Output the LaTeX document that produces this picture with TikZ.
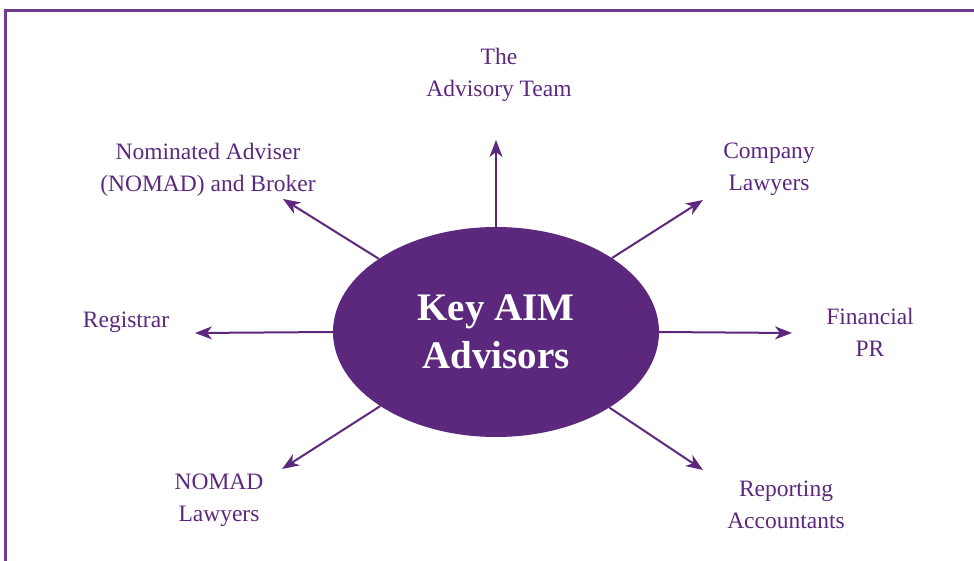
\documentclass[tikz,border=0pt]{standalone}
\usepackage{fontspec}
\setmainfont{Liberation Serif}
\usetikzlibrary{arrows.meta,shapes.geometric}
\definecolor{aimpurple}{RGB}{92,40,126}
\tikzset{
  spoke/.style={line width=2pt, color=aimpurple, -{Stealth[length=17pt,width=13pt,inset=5pt]}},
  advisor/.style={text=aimpurple, align=center, font=\fontsize{23.5}{32}\selectfont},
}

\begin{document}
\begin{tikzpicture}[x=1pt,y=-1pt]
		%%%%% FRAME %%%%%
		\useasboundingbox (0, 0) rectangle (974, 561);
		\draw[line width=3pt, color=aimpurple!90] (5, 575) -- (5, 11) -- (990, 11);
		
		%%%%% CENTRE %%%%%
		\node[ellipse, fill=aimpurple, minimum width=326pt, minimum height=210pt, inner sep=0pt,
		      text=white, align=center, font=\fontsize{39}{48}\selectfont\bfseries] (key) at (496, 332) {Key AIM\\Advisors};
		
		%%%%% TIPS %%%%%
		\coordinate (tipN)  at (496, 140);
		\coordinate (tipNE) at (703, 200);
		\coordinate (tipE)  at (792, 333);
		\coordinate (tipSE) at (703, 470);
		\coordinate (tipSW) at (282, 469);
		\coordinate (tipW)  at (195, 333);
		\coordinate (tipNW) at (283, 199);
		
		\draw[spoke] (key) -- (tipN);
		\draw[spoke] (key) -- (tipNE);
		\draw[spoke] (key.east) -- (tipE);
		\draw[spoke] (key) -- (tipSE);
		\draw[spoke] (key) -- (tipSW);
		\draw[spoke] (key.west) -- (tipW);
		\draw[spoke] (key) -- (tipNW);
		
		%%%%% LABELS %%%%%
		\node[advisor] (team)      at (499, 75)  {The\\Advisory Team};
		\node[advisor] (nomad)     at (208, 170) {Nominated Adviser\\(NOMAD) and Broker};
		\node[advisor] (company)   at (769, 169) {Company\\Lawyers};
		\node[advisor] (registrar) at (126, 322) {Registrar};
		\node[advisor] (pr)        at (870, 332) {Financial\\PR};
		\node[advisor] (nomadlaw)  at (219, 500) {NOMAD\\Lawyers};
		\node[advisor] (reporting) at (786, 505) {Reporting\\Accountants};
		
		%%%%% END %%%%%
	\end{tikzpicture}
\end{document}
